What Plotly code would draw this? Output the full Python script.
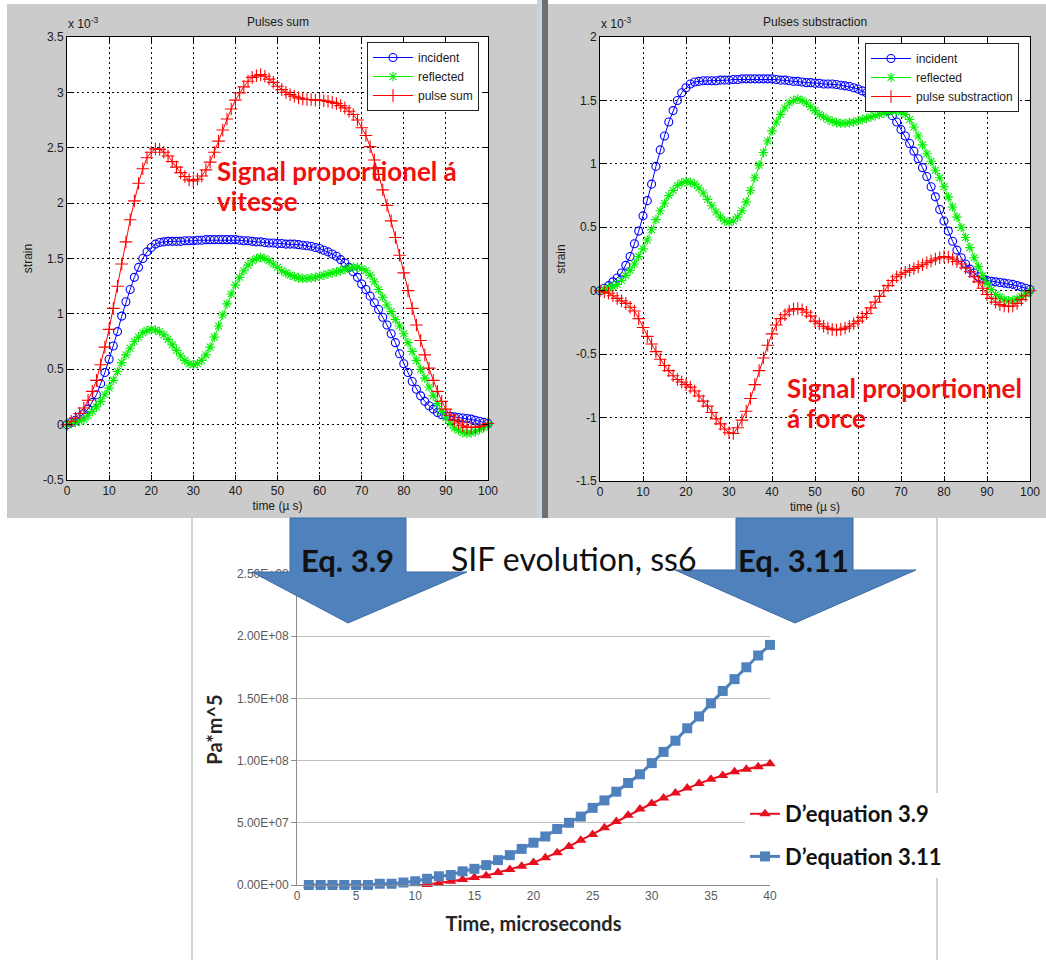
import plotly.graph_objects as go

W, H = 1046, 960

# ---------------- data ----------------
time_us = list(range(0, 101))

incident = [0.00, 0.02, 0.04, 0.07, 0.10, 0.14, 0.20, 0.27, 0.37, 0.47,
            0.59, 0.71, 0.84, 0.98, 1.11, 1.22, 1.33, 1.42, 1.50, 1.56,
            1.60, 1.63, 1.645, 1.65, 1.655, 1.655, 1.655, 1.655, 1.66, 1.66,
            1.66, 1.665, 1.665, 1.67, 1.67, 1.67, 1.67, 1.67, 1.67, 1.67,
            1.67, 1.665, 1.66, 1.66, 1.655, 1.65, 1.65, 1.645, 1.64, 1.64,
            1.635, 1.635, 1.63, 1.63, 1.63, 1.625, 1.62, 1.615, 1.61, 1.60,
            1.59, 1.575, 1.56, 1.54, 1.52, 1.49, 1.46, 1.42, 1.38, 1.33,
            1.27, 1.22, 1.16, 1.10, 1.04, 0.97, 0.90, 0.82, 0.74, 0.64,
            0.55, 0.47, 0.39, 0.32, 0.26, 0.21, 0.17, 0.14, 0.11, 0.09,
            0.08, 0.075, 0.07, 0.065, 0.06, 0.055, 0.05, 0.04, 0.03, 0.02,
            0.01]

reflected = [0.00, 0.01, 0.02, 0.03, 0.05, 0.08, 0.12, 0.16, 0.21, 0.27,
             0.33, 0.40, 0.48, 0.56, 0.63, 0.69, 0.75, 0.79, 0.83, 0.85,
             0.86, 0.855, 0.84, 0.81, 0.77, 0.72, 0.67, 0.62, 0.58, 0.55,
             0.54, 0.55, 0.58, 0.63, 0.70, 0.79, 0.89, 0.99, 1.09, 1.18,
             1.26, 1.33, 1.39, 1.44, 1.48, 1.50, 1.51, 1.50, 1.48, 1.45,
             1.42, 1.39, 1.37, 1.35, 1.335, 1.325, 1.32, 1.32, 1.325, 1.33,
             1.34, 1.35, 1.36, 1.37, 1.38, 1.39, 1.40, 1.41, 1.42, 1.42,
             1.41, 1.39, 1.35, 1.29, 1.22, 1.15, 1.08, 1.02, 0.95, 0.89,
             0.82, 0.74, 0.66, 0.58, 0.50, 0.42, 0.34, 0.26, 0.19, 0.12,
             0.06, 0.01, -0.03, -0.05, -0.07, -0.08, -0.075, -0.065, -0.045, -0.025,
             0.00]

pulse_sum = [0.00, 0.03, 0.06, 0.10, 0.15, 0.22, 0.30, 0.40, 0.54, 0.70,
             0.86, 1.05, 1.25, 1.45, 1.65, 1.85, 2.02, 2.18, 2.31, 2.41,
             2.46, 2.49, 2.485, 2.46, 2.425, 2.375, 2.325, 2.275, 2.24, 2.21,
             2.20, 2.215, 2.245, 2.30, 2.37, 2.46, 2.56, 2.66, 2.76, 2.85,
             2.93, 2.995, 3.05, 3.10, 3.135, 3.15, 3.16, 3.145, 3.12, 3.09,
             3.055, 3.025, 3.00, 2.98, 2.965, 2.95, 2.94, 2.935, 2.935, 2.93,
             2.93, 2.925, 2.92, 2.91, 2.90, 2.88, 2.86, 2.83, 2.80, 2.75,
             2.68, 2.61, 2.51, 2.39, 2.26, 2.12, 1.98, 1.84, 1.69, 1.53,
             1.37, 1.21, 1.05, 0.90, 0.76, 0.63, 0.51, 0.40, 0.30, 0.21,
             0.14, 0.085, 0.04, 0.015, -0.01, -0.025, -0.025, -0.025, -0.015, -0.005,
             0.01]

pulse_sub = [0.00, -0.01, -0.02, -0.04, -0.06, -0.08, -0.10, -0.13, -0.16, -0.22,
             -0.29, -0.36, -0.42, -0.48, -0.54, -0.59, -0.63, -0.67, -0.70, -0.72,
             -0.74, -0.76, -0.79, -0.83, -0.87, -0.91, -0.96, -1.01, -1.05, -1.09,
             -1.12, -1.125, -1.08, -1.02, -0.95, -0.85, -0.74, -0.63, -0.53, -0.43,
             -0.34, -0.27, -0.22, -0.19, -0.16, -0.145, -0.14, -0.15, -0.17, -0.20,
             -0.24, -0.26, -0.28, -0.295, -0.305, -0.31, -0.305, -0.295, -0.28, -0.26,
             -0.24, -0.21, -0.18, -0.135, -0.09, -0.045, 0.00, 0.04, 0.08, 0.11,
             0.13, 0.145, 0.16, 0.175, 0.19, 0.205, 0.22, 0.235, 0.25, 0.26,
             0.27, 0.265, 0.25, 0.23, 0.21, 0.18, 0.15, 0.11, 0.07, 0.02,
             -0.03, -0.06, -0.09, -0.11, -0.12, -0.125, -0.12, -0.10, -0.07, -0.04,
             0.00]

sif_time = list(range(1, 41))
sif_eq39 = [0, 0, 0, 0, 0, 0, -0.5e6, -1.0e6, -1.0e6, -0.5e6,
            0.5e6, 1.5e6, 3.0e6, 4.5e6, 6.0e6, 7.5e6, 1.0e7, 1.25e7, 1.5e7, 1.8e7,
            2.2e7, 2.6e7, 3.1e7, 3.6e7, 4.05e7, 4.6e7, 5.1e7, 5.6e7, 6.1e7, 6.55e7,
            7.0e7, 7.4e7, 7.8e7, 8.15e7, 8.5e7, 8.8e7, 9.1e7, 9.3e7, 9.5e7, 9.75e7]
sif_eq311 = [0, 0, 0, 0, 0, 0, 1.0e6, 1.0e6, 2.0e6, 3.0e6,
             5.0e6, 7.0e6, 8.0e6, 1.1e7, 1.3e7, 1.6e7, 2.0e7, 2.4e7, 2.9e7, 3.4e7,
             3.9e7, 4.5e7, 5.0e7, 5.5e7, 6.2e7, 6.8e7, 7.5e7, 8.2e7, 8.9e7, 9.8e7,
             1.07e8, 1.16e8, 1.26e8, 1.355e8, 1.46e8, 1.56e8, 1.655e8, 1.75e8, 1.845e8, 1.93e8]

top_xticks = [0, 10, 20, 30, 40, 50, 60, 70, 80, 90, 100]
left_yticks = [-0.5, 0, 0.5, 1, 1.5, 2, 2.5, 3, 3.5]
left_ytext = ["-0.5", "0", "0.5", "1", "1.5", "2", "2.5", "3", "3.5"]
right_yticks = [-1.5, -1, -0.5, 0, 0.5, 1, 1.5, 2]
right_ytext = ["-1.5", "-1", "-0.5", "0", "0.5", "1", "1.5", "2"]
sif_yticks = [0, 5e7, 1e8, 1.5e8, 2e8, 2.5e8]
sif_ytext = ["0.00E+00", "5.00E+07", "1.00E+08", "1.50E+08", "2.00E+08", "2.50E+08"]
sif_xticks = [0, 5, 10, 15, 20, 25, 30, 35, 40]


def px(x):
    return x / W


def py(y):
    return 1 - y / H


MATLAB_FONT = "Liberation Sans"
CAL_FONT = "Lato"
BLUE, GREEN, RED = "#0000FF", "#00F000", "#FF0000"
XL_RED, XL_BLUE = "#E8101E", "#4F81BD"

fig = go.Figure()


def ml_trace(y, name, xa, ya, symbol, size, color, lg):
    return go.Scatter(x=time_us, y=y, name=name, xaxis=xa, yaxis=ya, legend=lg,
                      mode="lines+markers", cliponaxis=False,
                      line=dict(color=color, width=1),
                      marker=dict(symbol=symbol, size=size, color=color, line=dict(width=1.1)))


# ---- top-left: pulses sum ----
fig.add_trace(ml_trace(incident, "incident", "x", "y", "circle-open", 8, BLUE, "legend"))
fig.add_trace(ml_trace(reflected, "reflected", "x", "y", "asterisk-open", 8, GREEN, "legend"))
fig.add_trace(ml_trace(pulse_sum, "pulse sum", "x", "y", "cross-thin-open", 9, RED, "legend"))

# ---- top-right: pulses substraction ----
fig.add_trace(ml_trace(incident, "incident", "x2", "y2", "circle-open", 8, BLUE, "legend2"))
fig.add_trace(ml_trace(reflected, "reflected", "x2", "y2", "asterisk-open", 8, GREEN, "legend2"))
fig.add_trace(ml_trace(pulse_sub, "pulse substraction", "x2", "y2", "cross-thin-open", 9, RED, "legend2"))

# ---- bottom: SIF evolution ----
fig.add_trace(go.Scatter(x=sif_time, y=sif_eq39, name="D\u2019equation 3.9", xaxis="x3", yaxis="y3",
                         mode="lines+markers", line=dict(color=XL_RED, width=2),
                         marker=dict(symbol="triangle-up", size=10, color=XL_RED),
                         legend="legend3", legendgroup="a", cliponaxis=False))
fig.add_trace(go.Scatter(x=sif_time, y=sif_eq311, name="D\u2019equation 3.11", xaxis="x3", yaxis="y3",
                         mode="lines+markers", line=dict(color=XL_BLUE, width=3),
                         marker=dict(symbol="square", size=10, color=XL_BLUE),
                         legend="legend3", legendgroup="b", cliponaxis=False))

ml_axis = dict(showline=True, linecolor="black", linewidth=1, mirror="ticks",
               ticks="inside", ticklen=5, tickcolor="black",
               showgrid=True, gridcolor="black", gridwidth=1, griddash="2px,3px",
               zeroline=False, tickfont=dict(family=MATLAB_FONT, size=12, color="#1a1a1a"),
               fixedrange=True, automargin=False)

layout = dict(
    width=W, height=H, margin=dict(l=0, r=0, t=0, b=0, pad=0, autoexpand=False),
    paper_bgcolor="white", plot_bgcolor="white",
    font=dict(family=MATLAB_FONT, color="#1a1a1a"),
    xaxis=dict(domain=[px(67), px(488)], range=[0, 100], anchor="y",
               tickvals=top_xticks,
               title=dict(text="time (\u00b5 s)", standoff=4,
                          font=dict(family=MATLAB_FONT, size=12)), **ml_axis),
    yaxis=dict(domain=[py(480), py(37)], range=[-0.5, 3.5], anchor="x",
               tickvals=left_yticks, ticktext=left_ytext,
               title=dict(text="strain", standoff=7,
                          font=dict(family=MATLAB_FONT, size=12)), **ml_axis),
    xaxis2=dict(domain=[px(600), px(1030)], range=[0, 100], anchor="y2",
                tickvals=top_xticks,
                title=dict(text="time (\u00b5 s)", standoff=4,
                           font=dict(family=MATLAB_FONT, size=12)), **ml_axis),
    yaxis2=dict(domain=[py(481), py(37)], range=[-1.5, 2], anchor="x2",
                tickvals=right_yticks, ticktext=right_ytext,
                title=dict(text="strain", standoff=7,
                           font=dict(family=MATLAB_FONT, size=12)), **ml_axis),
    xaxis3=dict(domain=[px(297), px(770)], range=[0, 40], anchor="y3",
                tickvals=sif_xticks, showgrid=False, zeroline=False,
                showline=True, linecolor="#8c8c8c", linewidth=1, ticks="",
                tickfont=dict(family=MATLAB_FONT, size=12, color="#595959"),
                title=dict(text="Time, microseconds", standoff=14,
                           font=dict(family=CAL_FONT, size=20, color="#262626", weight="bold")),
                fixedrange=True, automargin=False),
    yaxis3=dict(domain=[py(885), py(574)], range=[0, 2.5e8], anchor="x3",
                tickvals=sif_yticks, ticktext=sif_ytext,
                showgrid=True, gridcolor="#BEBEBE", gridwidth=1, zeroline=False,
                showline=True, linecolor="#8c8c8c", linewidth=1,
                ticks="outside", ticklen=5, tickcolor="#8c8c8c",
                tickfont=dict(family=MATLAB_FONT, size=12, color="#595959"),
                title=dict(text="Pa*m^5", standoff=8,
                           font=dict(family=CAL_FONT, size=20, color="#262626", weight="bold")),
                fixedrange=True, automargin=False),
    legend=dict(x=px(367), y=py(42), xanchor="left", yanchor="top",
                bgcolor="white", bordercolor="#222", borderwidth=1,
                font=dict(family=MATLAB_FONT, size=12, color="#1a1a1a"),
                tracegroupgap=0, itemwidth=40, itemclick=False),
    legend2=dict(x=px(865), y=py(43), xanchor="left", yanchor="top",
                 bgcolor="white", bordercolor="#222", borderwidth=1,
                 font=dict(family=MATLAB_FONT, size=12, color="#1a1a1a"),
                 tracegroupgap=0, itemwidth=40, itemclick=False),
    legend3=dict(x=px(745), y=py(793), xanchor="left", yanchor="top",
                 bgcolor="white", borderwidth=0,
                 font=dict(family=CAL_FONT, size=22, color="#111", weight="bold"),
                 tracegroupgap=11, itemclick=False),
    showlegend=True,
)
fig.update_layout(**layout)

# ---------------- decorations ----------------
shapes = []
# grey MATLAB figure windows
shapes.append(dict(type="rect", xref="paper", yref="paper", x0=px(7), x1=px(537), y0=py(518), y1=py(4),
                   fillcolor="#cbcbcb", line=dict(width=0), layer="below"))
shapes.append(dict(type="rect", xref="paper", yref="paper", x0=px(548), x1=1, y0=py(518), y1=py(4),
                   fillcolor="#cbcbcb", line=dict(width=0), layer="below"))
shapes.append(dict(type="rect", xref="paper", yref="paper", x0=px(537), x1=px(542), y0=py(518), y1=1,
                   fillcolor="#c4d5e8", line=dict(width=0), layer="below"))
shapes.append(dict(type="rect", xref="paper", yref="paper", x0=px(542), x1=px(548), y0=py(518), y1=1,
                   fillcolor="#6f6f6f", line=dict(width=0), layer="below"))
# white plotting areas
for xr, yr in (("x", "y"), ("x2", "y2")):
    shapes.append(dict(type="rect", xref=xr + " domain", yref=yr + " domain", x0=0, x1=1, y0=0, y1=1,
                       fillcolor="white", line=dict(width=0), layer="below"))
# bottom chart frame
for xx in (192, 937):
    shapes.append(dict(type="line", xref="paper", yref="paper", x0=px(xx), x1=px(xx), y0=py(518), y1=0,
                       line=dict(color="#a6a6a6", width=1), layer="below"))


def arrow_path(pts):
    return "M " + " L ".join(f"{px(a):.5f},{py(b):.5f}" for a, b in pts) + " Z"


left_arrow = [(290, 518), (406, 518), (406, 572), (467, 572), (348, 623), (252, 572), (290, 572)]
right_arrow = [(736, 518), (853, 518), (853, 570), (916, 570), (795, 623), (675, 570), (736, 570)]
for pts in (left_arrow, right_arrow):
    shapes.append(dict(type="path", xref="paper", yref="paper", path=arrow_path(pts),
                       fillcolor="#4F81BD", line=dict(color="#3d6ba3", width=1), layer="above"))
fig.update_layout(shapes=shapes)

ann = []


def add_text(text, x, y, size, color="#1a1a1a", family=MATLAB_FONT, xanchor="center",
             yanchor="middle", weight="normal", align="center"):
    ann.append(dict(text=text, x=px(x), y=py(y), xref="paper", yref="paper", showarrow=False,
                    xanchor=xanchor, yanchor=yanchor, align=align,
                    font=dict(family=family, size=size, color=color, weight=weight)))


add_text("Pulses sum", 277.5, 22, 12)
add_text("Pulses substraction", 815, 22, 12)
add_text("x 10<sup>-3</sup>", 66, 33, 12, xanchor="left", yanchor="bottom")
add_text("x 10<sup>-3</sup>", 599, 33, 12, xanchor="left", yanchor="bottom")
SIG = "#F01010"
add_text("Signal proportionel \u00e1", 215, 171, 26, color=SIG, family=CAL_FONT,
         xanchor="left", weight="bold", align="left")
add_text("vitesse", 215, 201, 26, color=SIG, family=CAL_FONT,
         xanchor="left", weight="bold", align="left")
add_text("Signal proportionnel", 785, 388, 26, color=SIG, family=CAL_FONT,
         xanchor="left", weight="bold", align="left")
add_text("\u00e1 force", 785, 418, 26, color=SIG, family=CAL_FONT,
         xanchor="left", weight="bold", align="left")
add_text("SIF evolution, ss6", 573, 558, 32, color="#111", family=CAL_FONT)
add_text("Eq. 3.9", 347, 560, 31, color="#111", family=CAL_FONT, weight="bold")
add_text("Eq. 3.11", 793, 560, 31, color="#111", family=CAL_FONT, weight="bold")
fig.update_layout(annotations=ann)

fig.write_html("out.html", config={"displayModeBar": False},
               post_script="document.body.style.margin='0px';document.body.style.overflow='hidden';")
